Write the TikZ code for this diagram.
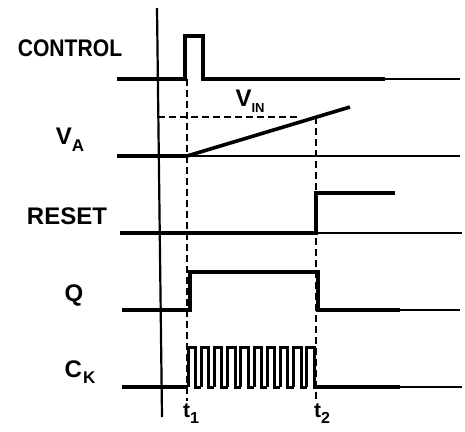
\documentclass[tikz,border=0pt]{standalone}
\usepackage{fontspec}
\setmainfont{Liberation Sans}
\usepackage{tikz}
\usetikzlibrary{positioning, calc}
\tikzstyle{sig} = [line width=3.6pt, line join=miter]
\tikzstyle{clk} = [line width=3pt, line join=miter]
\tikzstyle{trail} = [line width=2pt]
\tikzstyle{axis} = [line width=2.2pt]
\tikzstyle{guide} = [line width=2.2pt, dash pattern=on 7pt off 4pt]
\tikzstyle{lbl} = [inner sep=0pt, font=\bfseries\fontsize{24}{24}\selectfont]
\tikzstyle{tlbl} = [inner sep=0pt, font=\bfseries\fontsize{21}{21}\selectfont]

\begin{document}
\begin{tikzpicture}[x=1pt, y=-1pt]
        \useasboundingbox (0,0) rectangle (465,431);
        % signal names
        \node (control) [lbl] at (70,48) {\scalebox{0.88}[1]{CONTROL}};
        \node (va) [lbl] at (70,140) {V\raisebox{-7pt}{\fontsize{17}{17}\selectfont A}};
        \node (reset) [lbl] at (67,216) {RESET};
        \node (q) [lbl] at (74,295) {Q};
        \node (ck) [lbl] at (80,372) {C\kern1pt\raisebox{-6pt}{\fontsize{17}{17}\selectfont K}};
        \node (vin) [lbl] at (250,101) {V\raisebox{-6pt}{\fontsize{13}{13}\selectfont IN}};
        \node (t1) [tlbl] at (191,414) {t\raisebox{-6pt}{\fontsize{16}{16}\selectfont 1}};
        \node (t2) [tlbl] at (322,414) {t\raisebox{-6pt}{\fontsize{16}{16}\selectfont 2}};

        \coordinate (ta) at (187,0);
        \coordinate (tb) at (316,0);

        % time axis
        \draw [axis] (157,8) -- (162,417);

        % markers
        \draw [guide] (ta |- 0,79) -- (ta |- 0,401);
        \draw [guide] (tb |- 0,117) -- (tb |- 0,401);
        \draw [guide] (158,117) -- (298,117);

        % CONTROL
        \draw [sig] (117,79) -- (185,79) -- (185,36) -- (203,36) -- (203,79) -- (385,79);
        \draw [trail] (385,79) -- (460,79);

        % VA
        \draw [sig] (117,156) -- (187,156) -- (350,107);
        \draw [trail] (187,156) -- (460,156);

        % RESET
        \draw [sig] (120,233) -- (316,233) -- (316,193) -- (395,193);
        \draw [trail] (316,233) -- (462,233);

        % Q
        \draw [sig] (122,310) -- (190,310) -- (190,272) -- (318,272) -- (318,310) -- (400,310);
        \draw [trail] (400,310) -- (460,310);

        % CK
        \draw [sig] (122,387) -- (188,387);
        \foreach \i in {0,...,9} {
            \draw [clk] ({188+13.2*\i},387) -- ({188+13.2*\i},347) -- ({195.5+13.2*\i},347) -- ({195.5+13.2*\i},387) -- ({201.2+13.2*\i},387);
        }
        \draw [sig] (316,387) -- (400,387);
        \draw [trail] (400,387) -- (462,387);
    \end{tikzpicture}
\end{document}
